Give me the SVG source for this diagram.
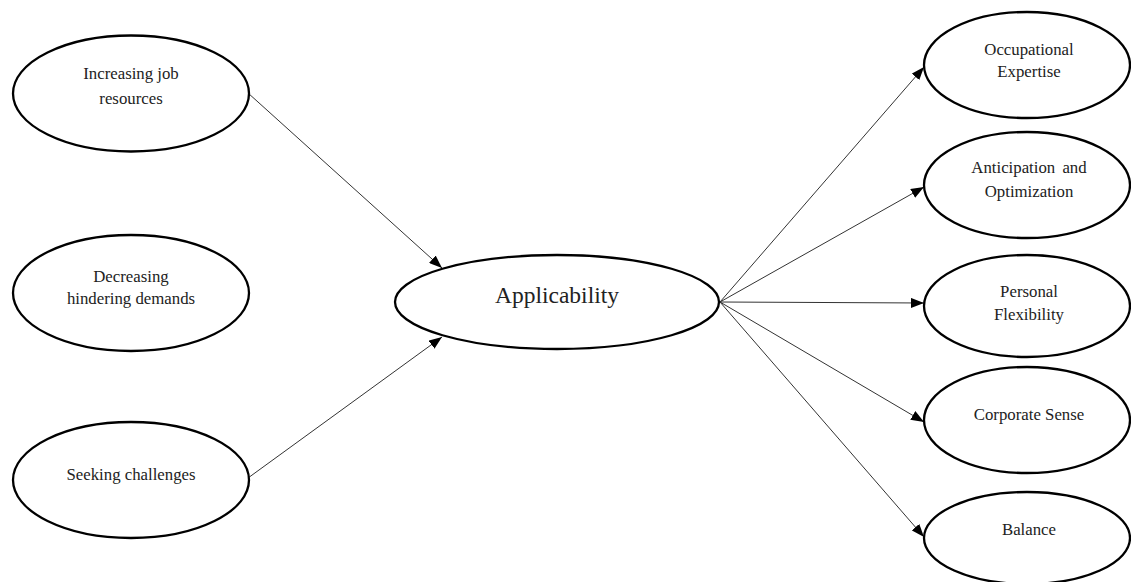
<svg xmlns="http://www.w3.org/2000/svg" width="1131" height="582" viewBox="0 0 1131 582">
<style>
.n{fill:#fff;stroke:#000;stroke-width:2.3}
.t{font-family:"Liberation Serif","Times New Roman",serif;font-size:16.8px;fill:#222;text-anchor:middle}
.big{font-size:23.5px}
.c{stroke:#333;stroke-width:1;fill:none;marker-end:url(#ah)}
</style>
<defs>
<marker id="ah" viewBox="0 0 13 10" refX="13" refY="5" markerWidth="13" markerHeight="10" markerUnits="userSpaceOnUse" orient="auto">
<path d="M0,0 L13,5 L0,10 Z" fill="#000"/>
</marker>
</defs>
<rect width="1131" height="582" fill="#fff"/>
<g id="connectors">
<line class="c" x1="248" y1="93" x2="442" y2="268"/>
<line class="c" x1="248" y1="478" x2="442" y2="337"/>
<line class="c" x1="720" y1="302" x2="924" y2="67"/>
<line class="c" x1="720" y1="302" x2="924" y2="187"/>
<line class="c" x1="720" y1="302" x2="924" y2="303"/>
<line class="c" x1="720" y1="302" x2="924" y2="422"/>
<line class="c" x1="720" y1="302" x2="924" y2="537"/>
</g>
<g id="increasing">
<ellipse class="n" cx="131" cy="93.5" rx="118" ry="58"/>
<text class="t" x="131" y="79">Increasing job</text>
<text class="t" x="131" y="104">resources</text>
</g>
<g id="decreasing">
<ellipse class="n" cx="131" cy="293" rx="118" ry="58"/>
<text class="t" x="131" y="282">Decreasing</text>
<text class="t" x="131" y="304">hindering demands</text>
</g>
<g id="seeking">
<ellipse class="n" cx="131" cy="480" rx="118" ry="58"/>
<text class="t" x="131" y="480">Seeking challenges</text>
</g>
<g id="applicability">
<ellipse class="n" cx="557" cy="302" rx="162" ry="47"/>
<text class="t big" x="557" y="303">Applicability</text>
</g>
<g id="occupational">
<ellipse class="n" cx="1027" cy="65" rx="103" ry="53"/>
<text class="t" x="1029" y="55">Occupational</text>
<text class="t" x="1029" y="77">Expertise</text>
</g>
<g id="anticipation">
<ellipse class="n" cx="1027" cy="185" rx="103" ry="53"/>
<text class="t" x="1029" y="173" word-spacing="3">Anticipation and</text>
<text class="t" x="1029" y="197">Optimization</text>
</g>
<g id="personal">
<ellipse class="n" cx="1027" cy="306" rx="103" ry="51"/>
<text class="t" x="1029" y="297">Personal</text>
<text class="t" x="1029" y="320">Flexibility</text>
</g>
<g id="corporate">
<ellipse class="n" cx="1027" cy="420" rx="103" ry="53"/>
<text class="t" x="1029" y="420">Corporate Sense</text>
</g>
<g id="balance">
<ellipse class="n" cx="1027" cy="538" rx="103" ry="46"/>
<text class="t" x="1029" y="535">Balance</text>
</g>
</svg>
